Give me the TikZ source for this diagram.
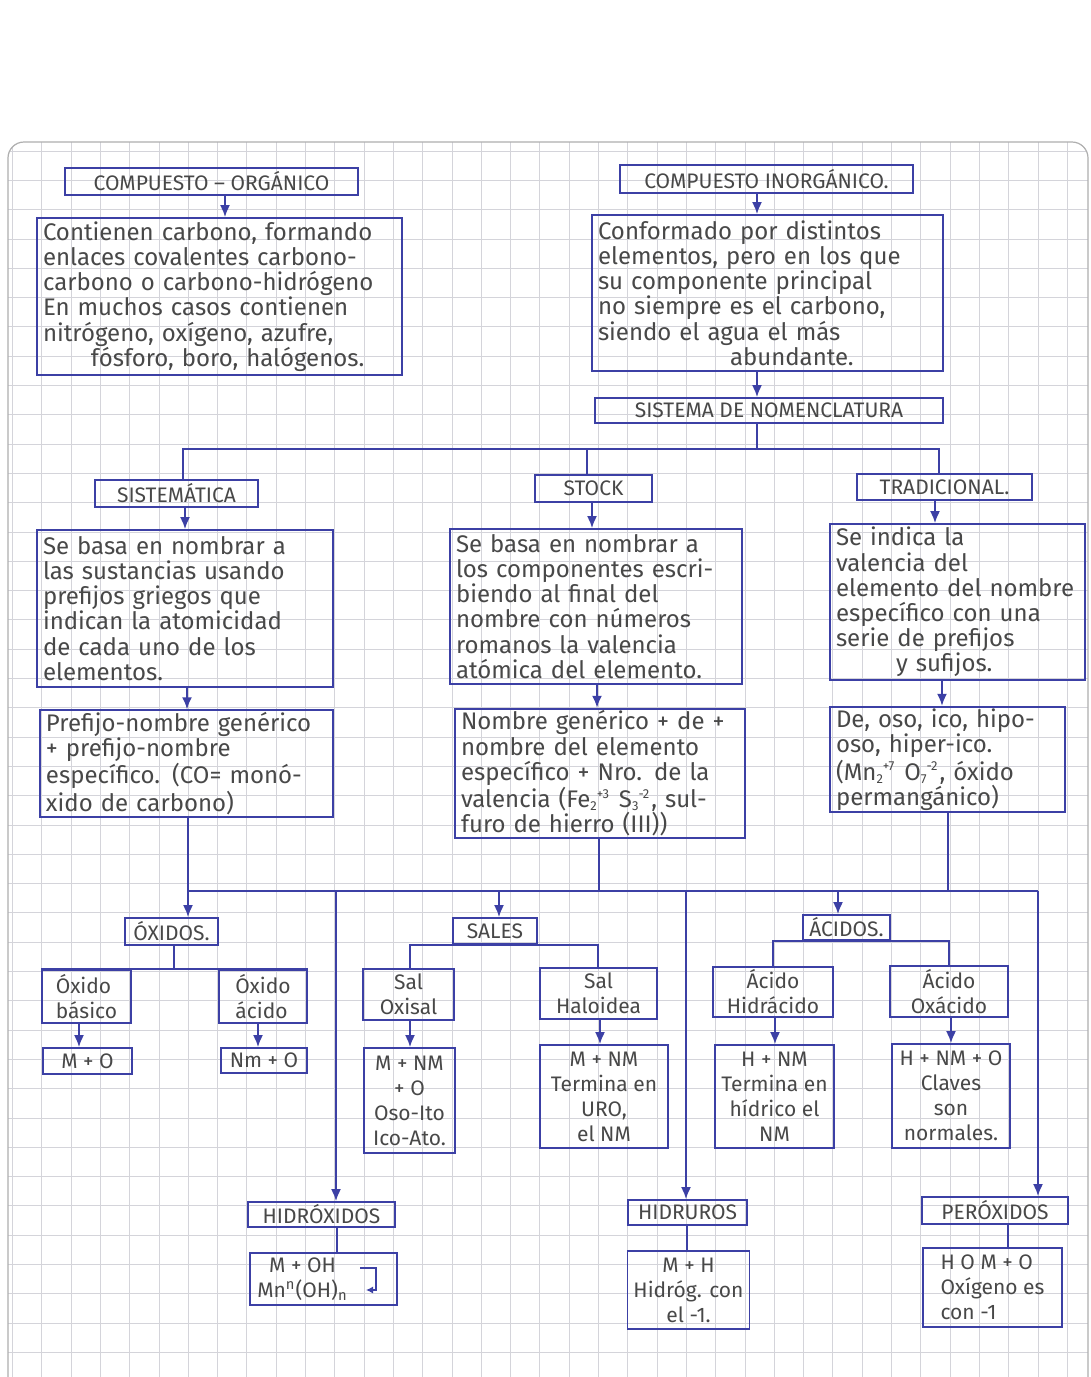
\documentclass[tikz,border=0pt]{standalone}
\usepackage{fontspec}
\setmainfont{Fira Sans}
\usetikzlibrary{arrows.meta}
\definecolor{pen}{RGB}{60,64,165}
\definecolor{pencil}{RGB}{72,72,72}
\definecolor{gridc}{RGB}{212,212,218}
\definecolor{edgec}{RGB}{175,175,175}
\newcommand\bodyf{\fontsize{12}{12.6}\selectfont}
\newcommand\smallf{\fontsize{10.5}{12.5}\selectfont}
\newcommand\titlef{\fontsize{10.5}{12}\selectfont}
% sub- and superscript side by side, small vertical extent
\newcommand\sbsp[2]{\raisebox{-0.25ex}{\fontsize{6.5}{7}\selectfont #1}\raisebox{0.75ex}{\fontsize{6.5}{7}\selectfont #2}\hspace{0.08em}}
\newcommand\mybox[7]{%
  \pgfmathsetmacro\bw{(#5-#3)*0.5}%
  \pgfmathsetmacro\bh{(#6-#4)*0.5}%
  \pgfmathsetmacro\tw{(#5-#3)*0.5-6}%
  \node[#1, minimum width=\bw pt, minimum height=\bh pt] (#2) at ({(#3+#5)/2},{(#4+#6)/2}) {#7};}
\tikzset{
  frame/.style={draw=pen, line width=0.9pt, inner xsep=3pt, inner ysep=1pt, text=pencil},
  box/.style={frame, font=\bodyf, align=left, text width=\tw pt},
  ttl/.style={frame, align=center, font=\titlef},
  sbox/.style={frame, align=center, font=\smallf},
  sboxl/.style={frame, align=left, font=\smallf},
  arr/.style={draw=pen, line width=0.9pt, -{Latex[length=6pt,width=5pt]}},
  ln/.style={draw=pen, line width=0.9pt},
  gridline/.style={draw=gridc, line width=0.4pt},
  pageedge/.style={draw=edgec, line width=0.6pt}
}
\begin{document}
\begin{tikzpicture}[x=0.5pt,y=-0.5pt]
\useasboundingbox (0,0) rectangle (1091,1377);
\fill[white] (0,0) rectangle (1091,1377);
\begin{scope}
\clip[rounded corners=8pt] (8,142) rectangle (1088,1420);
\foreach \i in {0,...,36} \draw[gridline] ({12.4+29.3*\i},142) -- ({12.4+29.3*\i},1377);
\foreach \j in {0,...,42} \draw[gridline] (8,{151+29.3*\j}) -- (1088,{151+29.3*\j});
\end{scope}
\draw[pageedge, rounded corners=8pt] (8,1420) -- (8,142) -- (1088,142) -- (1088,1420);

% ---------- top ----------
\mybox{ttl}{oT}{65}{168}{358}{195}{COMPUESTO – ORGÁNICO}
\mybox{box}{oD}{37}{218}{402}{375}{Contienen carbono, formando\\enlaces covalentes carbono-\\carbono o carbono-hidrógeno\\En muchos casos contienen\\nitrógeno, oxígeno, azufre,\\\hspace*{2em}fósforo, boro, halógenos.}
\mybox{ttl}{iT}{620}{165}{913}{193}{COMPUESTO INORGÁNICO.}
\mybox{box}{iD}{592}{215}{943}{371}{Conformado por distintos\\elementos, pero en los que\\su componente principal\\no siempre es el carbono,\\siendo el agua el más\\\hspace*{5.5em}abundante.}
\mybox{ttl}{sn}{595}{398}{943}{423}{SISTEMA DE NOMENCLATURA}

% ---------- three systems ----------
\mybox{ttl}{sisT}{95}{480}{258}{507}{SISTEMÁTICA}
\mybox{box}{sisD}{37}{530}{333}{687}{Se basa en nombrar a\\las sustancias usando\\prefijos griegos que\\indican la atomicidad\\de cada uno de los\\elementos.}
\mybox{box}{sisF}{40}{712}{333}{815}{Prefijo-nombre genérico\\+ prefijo-nombre\\específico. (CO= monó-\\xido de carbono)}
\mybox{ttl}{stT}{535}{475}{652}{502}{STOCK}
\mybox{box}{stD}{450}{529}{742}{684}{Se basa en nombrar a\\los componentes escri-\\biendo al final del\\nombre con números\\romanos la valencia\\atómica del elemento.}
\mybox{box}{stF}{455}{709}{745}{838}{Nombre genérico + de +\\nombre del elemento\\específico + Nro. de la\\valencia (Fe\sbsp{2}{+3} S\sbsp{3}{-2}, sul-\\furo de hierro (III))}
\mybox{ttl}{trT}{857}{474}{1032}{500}{TRADICIONAL.}
\mybox{box}{trD}{830}{524}{1085}{680}{Se indica la\\valencia del\\elemento del nombre\\específico con una\\serie de prefijos\\\hspace*{2.5em}y sufijos.}
\mybox{box}{trF}{830}{707}{1065}{812}{De, oso, ico, hipo-\\oso, hiper-ico.\\(Mn\sbsp{2}{+7} O\sbsp{7}{-2}, óxido\\permangánico)}

% ---------- compounds ----------
\mybox{ttl}{oxT}{125}{918}{218}{945}{ÓXIDOS.}
\mybox{sboxl}{obas}{42}{970}{131}{1023}{Óxido\\básico}
\mybox{sboxl}{oac}{219}{970}{307}{1023}{Óxido\\ácido}
\mybox{sboxl}{mo}{43}{1048}{132}{1074}{M + O}
\mybox{sbox}{nmo}{221}{1048}{307}{1073}{Nm + O}
\mybox{ttl}{saT}{453}{918}{537}{944}{SALES}
\mybox{sbox}{oxs}{363}{969}{454}{1020}{Sal\\Oxisal}
\mybox{sbox}{oxsF}{364}{1048}{455}{1153}{M + NM\\+ O\\Oso-Ito\\Ico-Ato.}
\mybox{sbox}{hal}{540}{968}{657}{1019}{Sal\\Haloidea}
\mybox{sbox}{halF}{540}{1045}{668}{1148}{M + NM\\Termina en\\URO,\\el NM}
\mybox{ttl}{acT}{803}{915}{890}{940}{ÁCIDOS.}
\mybox{sbox}{hid}{713}{967}{833}{1017}{Ácido\\Hidrácido}
\mybox{sbox}{hidF}{715}{1045}{834}{1148}{H + NM\\Termina en\\hídrico el\\NM}
\mybox{sbox}{oxa}{890}{966}{1008}{1017}{Ácido\\Oxácido}
\mybox{sbox}{oxaF}{892}{1044}{1010}{1148}{H + NM + O\\Claves\\son\\normales.}
\mybox{ttl}{hxT}{248}{1202}{395}{1227}{HIDRÓXIDOS}
\mybox{sbox}{hxF}{250}{1253}{397}{1305}{M + OH\hspace*{2em}\\Mn\textsuperscript{n}(OH)\textsubscript{n}\hspace*{2em}}
\mybox{ttl}{hrT}{628}{1200}{747}{1225}{HIDRUROS}
\mybox{sbox}{hrF}{629}{1251}{748}{1329}{M + H\\Hidróg. con\\el -1.}
\mybox{ttl}{peT}{922}{1197}{1068}{1224}{PERÓXIDOS}
\mybox{sboxl}{peF}{923}{1248}{1062}{1327}{H O M + O\\Oxígeno es\\con -1}

% ---------- connectors: top ----------
\draw[arr] (225,0 |- oT.south) -- (225,0 |- oD.north);
\draw[arr] (757,0 |- iT.south) -- (757,0 |- iD.north);
\draw[arr] (757,0 |- iD.south) -- (757,0 |- sn.north);
\coordinate (nb) at (757,449);
\draw[ln] (757,0 |- sn.south) -- (nb);
\draw[ln] (183,0 |- sisT.north) -- (183,449) -- (939,449) -- (939,0 |- trT.north);
\draw[ln] (587,449) -- (587,0 |- stT.north);
\draw[arr] (185,0 |- sisT.south) -- (185,0 |- sisD.north);
\draw[arr] (187,0 |- sisD.south) -- (187,0 |- sisF.north);
\draw[arr] (592,0 |- stT.south) -- (592,0 |- stD.north);
\draw[arr] (597,0 |- stD.south) -- (597,0 |- stF.north);
\draw[arr] (935,0 |- trT.south) -- (935,0 |- trD.north);
\draw[arr] (942,0 |- trD.south) -- (942,0 |- trF.north);

% ---------- lower bus ----------
\coordinate (bl) at (188,891);
\coordinate (br) at (1038,891);
\draw[ln] (188,0 |- sisF.south) -- (bl) -- (br);
\draw[ln] (599,0 |- stF.south) -- (599,891);
\draw[ln] (948,0 |- trF.south) -- (948,891);
\draw[arr] (bl) -- (188,0 |- oxT.north);
\draw[arr] (499,891) -- (499,0 |- saT.north);
\draw[arr] (838,891) -- (838,0 |- acT.north);
\draw[arr] (336,891) -- (336,0 |- hxT.north);
\draw[arr] (686,891) -- (686,0 |- hrT.north);
\draw[arr] (br) -- (1038,0 |- peT.north);

% ---------- óxidos ----------
\draw[ln] (174,0 |- oxT.south) -- (174,0 |- obas.north);
\draw[ln] (obas.north west) -- (oac.north east);
\draw[arr] (79,0 |- obas.south) -- (79,0 |- mo.north);
\draw[arr] (258,0 |- oac.south) -- (258,0 |- nmo.north);

% ---------- sales ----------
\draw[ln] (410,0 |- oxs.north) -- (410,0 |- saT.south) -- (598,0 |- saT.south) -- (598,0 |- hal.north);
\draw[arr] (410,0 |- oxs.south) -- (410,0 |- oxsF.north);
\draw[arr] (600,0 |- hal.south) -- (600,0 |- halF.north);

% ---------- ácidos ----------
\draw[ln] (773,0 |- hid.north) -- (773,0 |- acT.south) -- (949,0 |- acT.south) -- (949,0 |- oxa.north);
\draw[arr] (775,0 |- hid.south) -- (775,0 |- hidF.north);
\draw[arr] (951,0 |- oxa.south) -- (951,0 |- oxaF.north);

% ---------- bottom row ----------
\draw[ln] (337,0 |- hxT.south) -- (337,0 |- hxF.north);
\draw[ln] (687,0 |- hrT.south) -- (687,0 |- hrF.north);
\draw[ln] (1008,0 |- peT.south) -- (1008,0 |- peF.north);
\coordinate (hk1) at (360,1268);
\coordinate (hk2) at (366,1290);
\draw[draw=pen, line width=0.6pt, -{Latex[length=3.5pt,width=3.5pt]}] (hk1) -- (376,1268) -- (376,1290) -- (hk2);
\end{tikzpicture}
\end{document}
